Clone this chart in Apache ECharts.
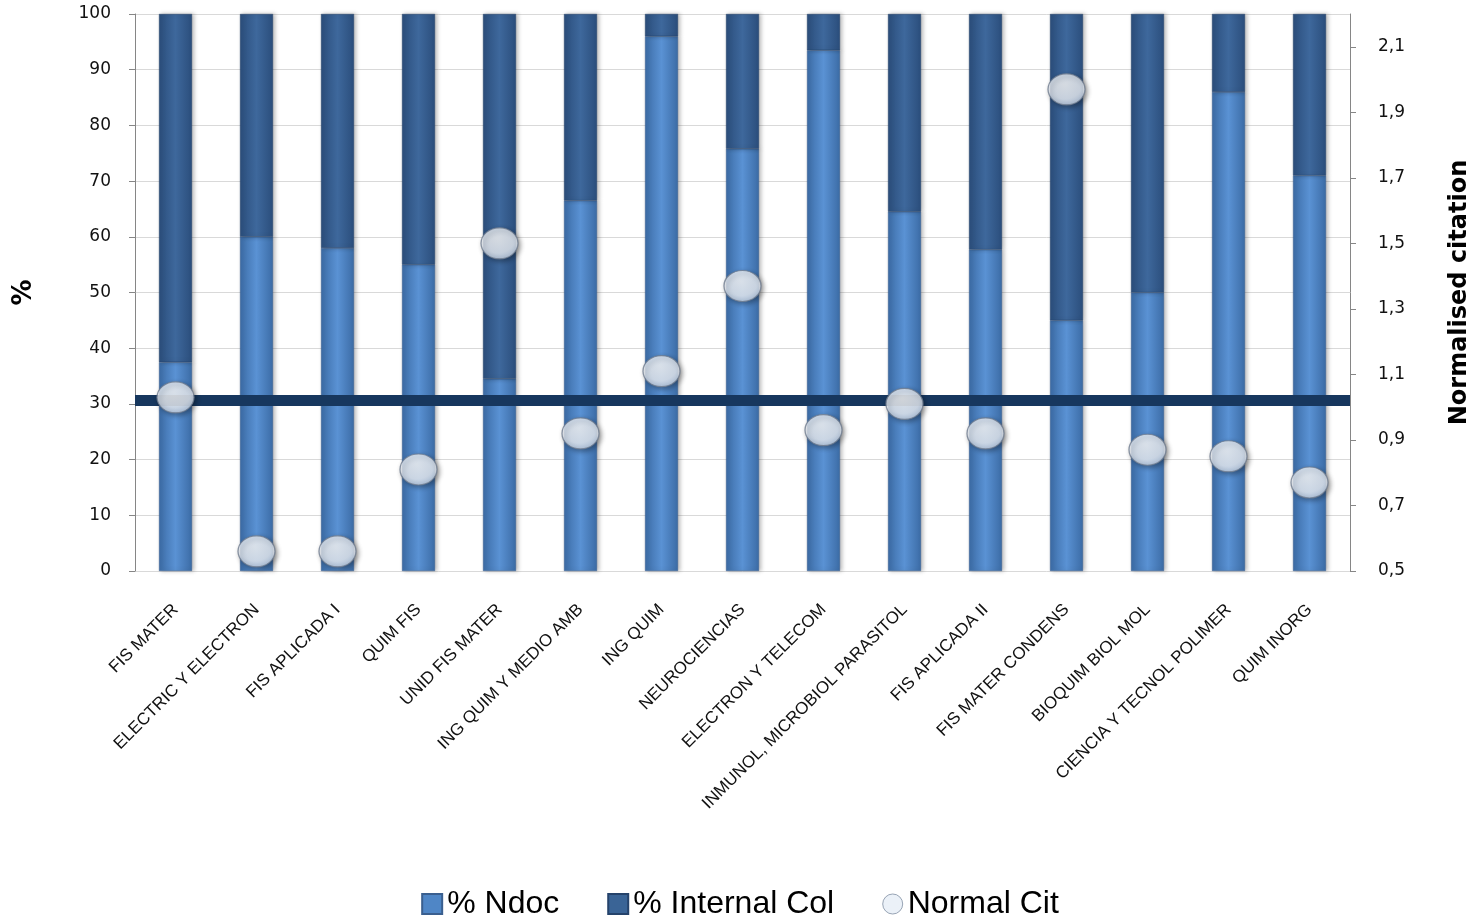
<!DOCTYPE html>
<html>
<head>
<meta charset="utf-8">
<script src="https://cdn.jsdelivr.net/npm/echarts@6/dist/echarts.min.js"></script>
<style>
  html, body { margin: 0; padding: 0; background: #fff; }
  #main { width: 1480px; height: 918px; }
</style>
</head>
<body>
<div id="main"></div>
<script>
// departments
const categories = [
  'FIS MATER', 'ELECTRIC Y ELECTRON', 'FIS APLICADA I', 'QUIM FIS', 'UNID FIS MATER',
  'ING QUIM Y MEDIO AMB', 'ING QUIM', 'NEUROCIENCIAS', 'ELECTRON Y TELECOM',
  'INMUNOL, MICROBIOL PARASITOL', 'FIS APLICADA II', 'FIS MATER CONDENS',
  'BIOQUIM BIOL MOL', 'CIENCIA Y TECNOL POLIMER', 'QUIM INORG'
];
// % Ndoc (bottom part of each bar)
const ndoc = [37.5, 60, 58, 55, 34.5, 66.5, 96, 75.8, 93.5, 64.5, 57.7, 45, 50, 86, 71];
// % Internal Col (top part, rest up to 100)
const internalCol = [62.5, 40, 42, 45, 65.5, 33.5, 4, 24.2, 6.5, 35.5, 42.3, 55, 50, 14, 29];
// Normalised citation (right axis)
const normalCit = [1.03, 0.56, 0.56, 0.81, 1.5, 0.92, 1.11, 1.37, 0.93, 1.01, 0.92, 1.97, 0.87, 0.85, 0.77];
// reference line on the right axis
const refValue = 1.02;

const chart = echarts.init(document.getElementById('main'));

function cyl(edge, mid) {
  return new echarts.graphic.LinearGradient(0, 0, 1, 0, [
    { offset: 0, color: edge },
    { offset: 0.5, color: mid },
    { offset: 1, color: edge }
  ]);
}

const option = {
  backgroundColor: '#fff',
  animation: false,
  grid: { left: 135, right: 127, top: 14, bottom: 347 },
  legend: {
    bottom: -7,
    left: 'center',
    itemWidth: 20,
    itemHeight: 20,
    itemGap: 48,
    textStyle: { fontFamily: 'Liberation Sans', fontSize: 32, color: '#000' },
    data: [
      { name: '% Ndoc', icon: 'rect', itemStyle: { color: '#4f86c6' } },
      { name: '% Internal Col', icon: 'rect', itemStyle: { color: '#3a6496' } },
      { name: 'Normal Cit', icon: 'circle', itemStyle: { color: '#e6edf6', borderColor: '#7f8ea3', borderWidth: 1 } }
    ]
  },
  xAxis: {
    type: 'category',
    data: categories,
    axisLine: { show: false },
    axisTick: { show: false },
    axisLabel: {
      rotate: 45,
      interval: 0,
      margin: 36,
      fontFamily: 'Liberation Sans',
      fontSize: 17,
      color: '#111'
    }
  },
  yAxis: [
    {
      type: 'value',
      min: 0,
      max: 100,
      interval: 10,
      name: '%',
      nameLocation: 'middle',
      nameGap: 98,
      nameTextStyle: { fontFamily: 'DejaVu Sans', fontSize: 26, fontWeight: 'bold', color: '#000' },
      axisLine: { show: true, lineStyle: { color: '#868686' } },
      axisTick: { show: true, length: 6, lineStyle: { color: '#868686' } },
      axisLabel: { fontFamily: 'DejaVu Sans', fontSize: 17, color: '#111', margin: 24 },
      splitLine: { show: true, lineStyle: { color: '#d9d9d9' } }
    },
    {
      type: 'value',
      min: 0.5,
      max: 2.2,
      interval: 0.2,
      position: 'right',
      name: 'Normalised citation',
      nameLocation: 'middle',
      nameGap: 98,
      nameRotate: 90,
      nameTextStyle: { fontFamily: 'DejaVu Sans', fontSize: 24, fontWeight: 'bold', color: '#000' },
      axisLine: { show: true, lineStyle: { color: '#868686' } },
      axisTick: { show: true, length: 6, lineStyle: { color: '#868686' } },
      axisLabel: {
        fontFamily: 'DejaVu Sans', fontSize: 17, color: '#111', margin: 28,
        showMaxLabel: false,
        formatter: v => v.toFixed(1).replace('.', ',')
      },
      splitLine: { show: false }
    }
  ],
  series: [
    {
      name: '% Ndoc',
      type: 'bar',
      stack: 'total',
      barWidth: 33,
      data: ndoc,
      itemStyle: {
        color: cyl('#3c6ca6', '#5a92d4'),
        borderColor: '#3a5f8f',
        borderWidth: 0.5,
        shadowBlur: 4,
        shadowOffsetX: 2,
        shadowColor: 'rgba(0,0,0,0.25)'
      }
    },
    {
      name: '% Internal Col',
      type: 'bar',
      stack: 'total',
      barWidth: 33,
      data: internalCol,
      itemStyle: {
        color: cyl('#2b4e7c', '#3e689c'),
        borderColor: '#25436b',
        borderWidth: 0.5,
        shadowBlur: 4,
        shadowOffsetX: 2,
        shadowColor: 'rgba(0,0,0,0.25)'
      }
    },
    {
      name: 'Normal Cit',
      type: 'scatter',
      yAxisIndex: 1,
      data: normalCit,
      symbol: 'circle',
      symbolSize: [37, 31],
      z: 5,
      itemStyle: {
        color: new echarts.graphic.RadialGradient(0.45, 0.35, 0.75, [
          { offset: 0, color: '#ffffff' },
          { offset: 0.6, color: '#eef3fa' },
          { offset: 1, color: '#b9cbe3' }
        ]),
        borderColor: '#6f7c8e',
        borderWidth: 1.2,
        shadowBlur: 5,
        shadowOffsetX: 2,
        shadowOffsetY: 2,
        shadowColor: 'rgba(0,0,0,0.4)'
      },
      markLine: {
        silent: true,
        symbol: 'none',
        label: { show: false },
        z: 4,
        lineStyle: { color: '#17375e', width: 11, type: 'solid' },
        data: [{ yAxis: refValue }]
      }
    }
  ]
};

chart.setOption(option);
</script>
</body>
</html>
